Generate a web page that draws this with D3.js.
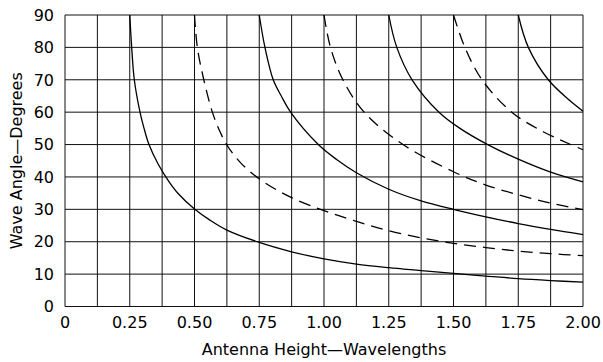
<!DOCTYPE html>
<html>
<head>
<meta charset="utf-8">
<script src="https://cdn.jsdelivr.net/npm/d3@7"></script>
<style>
  html, body { margin: 0; padding: 0; background: #fff; }
  svg { display: block; }
  text { font-family: "DejaVu Sans", sans-serif; fill: #000; }
</style>
</head>
<body>
<svg id="chart" width="603" height="362"></svg>
<script>
// Antenna height (wavelengths) vs. wave angle (degrees) for lobe maxima and nulls
const xTickValues = [0, 0.25, 0.5, 0.75, 1.0, 1.25, 1.5, 1.75, 2.0];
const xTickLabels = ["0", "0.25", "0.50", "0.75", "1.00", "1.25", "1.50", "1.75", "2.00"];
const xGridValues = [0, 0.125, 0.25, 0.375, 0.5, 0.625, 0.75, 0.875, 1.0, 1.125, 1.25, 1.375, 1.5, 1.625, 1.75, 1.875, 2.0];
const yTickValues = [0, 10, 20, 30, 40, 50, 60, 70, 80, 90];

// first maximum (solid)
const max1Height = [0.25, 0.2575, 0.2676, 0.2896, 0.3052, 0.3243, 0.36, 0.4, 0.4375, 0.5, 0.5625, 0.625, 0.75, 0.875, 1.0, 1.125, 1.25, 1.375, 1.5, 1.625, 1.75, 1.875, 2.0];
const max1Angle  = [90, 80, 70, 60, 55, 50, 43.9, 38.7, 34.8, 30.1, 26.5, 23.6, 19.8, 16.9, 14.7, 13.1, 12.0, 11.1, 10.2, 9.4, 8.6, 8.0, 7.5];
// first null (dashed)
const null1Height = [0.5, 0.511, 0.536, 0.569, 0.595, 0.624, 0.68, 0.759, 0.875, 1.0, 1.125, 1.25, 1.375, 1.5, 1.625, 1.75, 1.875, 2.0];
const null1Angle  = [90, 80, 70, 60, 54.6, 50, 44.2, 38.9, 33.6, 29.6, 26.3, 23.4, 21.2, 19.5, 18.2, 17.1, 16.3, 15.7];
// second maximum (solid)
const max2Height = [0.75, 0.772, 0.804, 0.835, 0.871, 0.978, 1.05, 1.125, 1.25, 1.375, 1.5, 1.625, 1.75, 1.875, 2.0];
const max2Angle  = [90, 80, 70, 65, 60, 50, 45.3, 41.3, 36.2, 32.6, 30.0, 27.7, 25.6, 23.8, 22.2];
// second null (dashed)
const null2Height = [1.0, 1.025, 1.073, 1.155, 1.305, 1.5, 1.625, 1.75, 1.875, 2.0];
const null2Angle  = [90, 80, 70, 60, 50, 41.6, 37.5, 34.5, 31.9, 29.9];
// third maximum (solid)
const max3Height = [1.25, 1.281, 1.34, 1.444, 1.525, 1.632, 1.75, 1.875, 2.0];
const max3Angle  = [90, 80, 70, 60, 55, 50, 45.5, 41.5, 38.5];
// third null (dashed)
const null3Height = [1.5, 1.544, 1.61, 1.725, 1.85, 2.0];
const null3Angle  = [90, 80, 70, 60, 53.8, 48.4];
// fourth maximum (solid)
const max4Height = [1.75, 1.789, 1.866, 1.95, 2.0];
const max4Angle  = [90, 80, 70, 63.5, 60.3];

const series = [
  { h: max1Height, a: max1Angle, dashed: false },
  { h: null1Height, a: null1Angle, dashed: true },
  { h: max2Height, a: max2Angle, dashed: false },
  { h: null2Height, a: null2Angle, dashed: true },
  { h: max3Height, a: max3Angle, dashed: false },
  { h: null3Height, a: null3Angle, dashed: true },
  { h: max4Height, a: max4Angle, dashed: false }
];

const svg = d3.select("#chart");
const plotLeft = 65, plotRight = 583, plotTop = 15, plotBottom = 306.5;

const x = d3.scaleLinear().domain([0, 2]).range([plotLeft, plotRight]);
const y = d3.scaleLinear().domain([0, 90]).range([plotBottom, plotTop]);

// grid
const grid = svg.append("g").attr("stroke", "#111").attr("stroke-width", 1);
grid.selectAll("line.v").data(xGridValues).join("line")
  .attr("class", "v")
  .attr("x1", d => x(d)).attr("x2", d => x(d))
  .attr("y1", y(0)).attr("y2", y(90));
grid.selectAll("line.h").data(yTickValues).join("line")
  .attr("class", "h")
  .attr("x1", x(0)).attr("x2", x(2))
  .attr("y1", d => y(d)).attr("y2", d => y(d));

// curves: centripetal Catmull-Rom keeps the steep tops and flat tails smooth
const line = d3.line()
  .x(d => x(d[0]))
  .y(d => y(d[1]))
  .curve(d3.curveCatmullRom.alpha(0.5));

svg.append("g").selectAll("path").data(series).join("path")
  .attr("d", s => line(s.h.map((h, i) => [h, s.a[i]])))
  .attr("fill", "none")
  .attr("stroke", "#000")
  .attr("stroke-width", 1.3)
  .attr("stroke-dasharray", s => s.dashed ? "12,7" : null);

// tick labels
svg.append("g").selectAll("text").data(yTickValues).join("text")
  .attr("x", 54)
  .attr("y", d => y(d))
  .attr("dy", "0.36em")
  .attr("text-anchor", "end")
  .attr("font-size", 16)
  .text(d => d);

svg.append("g").selectAll("text").data(xTickValues).join("text")
  .attr("x", d => x(d))
  .attr("y", 328)
  .attr("text-anchor", "middle")
  .attr("font-size", 16)
  .text((d, i) => xTickLabels[i]);

// axis titles
svg.append("text")
  .attr("x", (plotLeft + plotRight) / 2)
  .attr("y", 355)
  .attr("text-anchor", "middle")
  .attr("font-size", 16)
  .text("Antenna Height\u2014Wavelengths");

svg.append("text")
  .attr("transform", `translate(22,${(plotTop + plotBottom) / 2}) rotate(-90)`)
  .attr("text-anchor", "middle")
  .attr("font-size", 16)
  .text("Wave Angle\u2014Degrees");
</script>
</body>
</html>
